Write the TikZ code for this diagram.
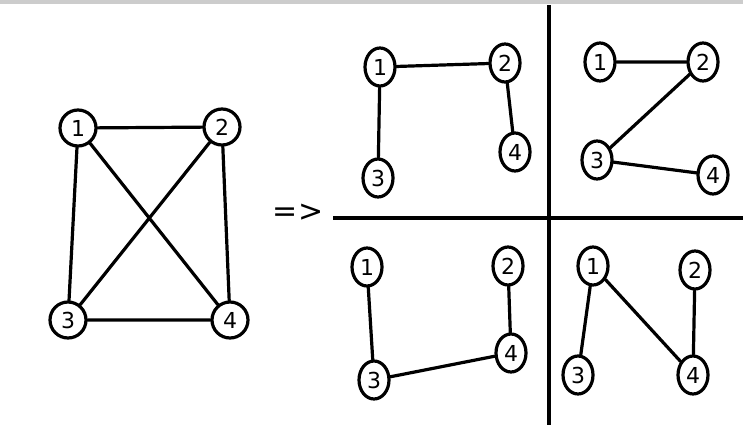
\documentclass[tikz,border=0pt]{standalone}
\usepackage{fontspec}
\setmainfont{DejaVu Sans}
\usetikzlibrary{shapes.geometric}
\begin{document}
\begin{tikzpicture}[x=1pt,y=-1pt,
  vtx/.style={draw,ellipse,line width=3.2pt,minimum width=30pt,minimum height=38pt,inner sep=0pt,font=\fontsize{22}{24}\selectfont},
  big/.style={vtx,minimum width=36pt,minimum height=36pt},
  edge/.style={line width=3.2pt,line cap=round}]
\useasboundingbox (0,0) rectangle (743,425);
\fill[gray!40] (0,0) rectangle (743,4);
% left graph
\node[big] (a1) at (78,128) {1};
\node[big] (a2) at (222,127) {2};
\node[big] (a3) at (68,320) {3};
\node[big] (a4) at (230,320) {4};
\draw[edge] (a1)--(a2) (a1)--(a3) (a1)--(a4) (a2)--(a3) (a2)--(a4) (a3)--(a4);
\node[font=\fontsize{30}{32}\selectfont] (arr) at (298,213) {=>};
% dividers
\coordinate (vt) at (549,5); \coordinate (vb) at (549,425);
\coordinate (hl) at (333,218); \coordinate (hr) at (743,218);
\draw[line width=3.5pt] (vt)--(vb) (hl)--(hr);
% TL
\node[vtx] (b1) at (380,67) {1};
\node[vtx] (b2) at (505,63) {2};
\node[vtx] (b3) at (378,178) {3};
\node[vtx] (b4) at (515,152) {4};
\draw[edge] (b1)--(b2) (b1)--(b3) (b2)--(b4);
% TR
\node[vtx] (c1) at (600,62) {1};
\node[vtx] (c2) at (703,62) {2};
\node[vtx] (c3) at (597,160) {3};
\node[vtx] (c4) at (713,175) {4};
\draw[edge] (c1)--(c2) (c2)--(c3) (c3)--(c4);
% BL
\node[vtx] (d1) at (367,267) {1};
\node[vtx] (d2) at (508,266) {2};
\node[vtx] (d3) at (374,380) {3};
\node[vtx] (d4) at (511,353) {4};
\draw[edge] (d1)--(d3) (d3)--(d4) (d2)--(d4);
% BR
\node[vtx] (e1) at (593,266) {1};
\node[vtx] (e2) at (695,270) {2};
\node[vtx] (e3) at (578,375) {3};
\node[vtx] (e4) at (693,375) {4};
\draw[edge] (e1)--(e3) (e1)--(e4) (e2)--(e4);
\end{tikzpicture}
\end{document}
